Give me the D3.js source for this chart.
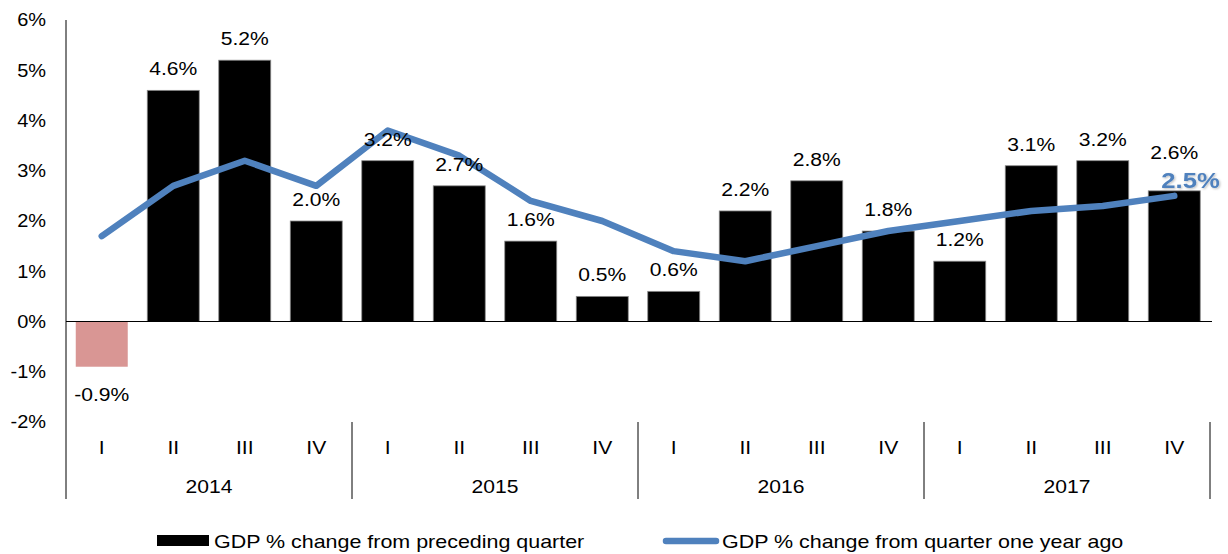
<!DOCTYPE html>
<html><head><meta charset="utf-8">
<script src="https://cdn.jsdelivr.net/npm/d3@7"></script>
<style>
html,body{margin:0;padding:0;background:#fff;}
svg{display:block;font-family:"Liberation Sans",Arial,sans-serif;}
</style></head>
<body><svg id="chart" width="1228" height="554"></svg>
<script>
const quarters = ["I","II","III","IV","I","II","III","IV","I","II","III","IV","I","II","III","IV"];
const years = ["2014","2015","2016","2017"];
const qoq = [-0.9,4.6,5.2,2.0,3.2,2.7,1.6,0.5,0.6,2.2,2.8,1.8,1.2,3.1,3.2,2.6];
const yoy = [1.7,2.7,3.2,2.7,3.8,3.3,2.4,2.0,1.4,1.2,1.5,1.8,2.0,2.2,2.3,2.5];
const yTicks = [-2,-1,0,1,2,3,4,5,6];
const seriesNames = ["GDP % change from preceding quarter","GDP % change from quarter one year ago"];

(function(){
const svg = d3.select("#chart");
const pL = 66, pR = 1210, pT = 20, pB = 422;
const SX = 1.14, FS = 18.5;
const idx = d3.range(qoq.length);
const x = d3.scaleBand().domain(idx).range([pL, pR]).paddingInner(0.273).paddingOuter(0.1365);
const y = d3.scaleLinear().domain([-2, 6]).range([pB, pT]);
const blue = "#4F81BD";
const tr = (px, py, s) => `translate(${px},${py}) scale(${s || SX},1)`;

// y axis
const yAxis = d3.axisLeft(y).tickValues(yTicks).tickSize(0).tickPadding(20).tickFormat(d => d + "%");
const ya = svg.append("g").attr("transform", `translate(${pL},0)`).call(yAxis);
ya.select(".domain").remove();
ya.selectAll("text").attr("font-size", FS).attr("fill", "#000")
  .attr("font-family", "Liberation Sans, Arial, sans-serif")
  .attr("x", -20 / 1.08).attr("transform", `scale(1.08,1)`);
svg.append("line").attr("x1", pL).attr("x2", pL).attr("y1", pT).attr("y2", 499).attr("stroke", "#000").attr("stroke-width", 1);

// bars
svg.append("g").selectAll("rect").data(qoq).join("rect")
  .attr("x", (d, i) => x(i))
  .attr("width", x.bandwidth())
  .attr("y", d => y(Math.max(0, d)))
  .attr("height", d => Math.abs(y(d) - y(0)))
  .attr("fill", d => d < 0 ? "#D99694" : "#000")
  .attr("stroke", d => d < 0 ? "none" : "#8a8a8a")
  .attr("stroke-width", 0.8);

// zero line
svg.append("line").attr("x1", pL).attr("x2", pR + 2).attr("y1", y(0)).attr("y2", y(0)).attr("stroke", "#000").attr("stroke-width", 1);

// line series
const line = d3.line().x((d, i) => x(i) + x.bandwidth() / 2).y(d => y(d));
svg.append("path").datum(yoy).attr("d", line).attr("fill", "none").attr("stroke", blue)
  .attr("stroke-width", 6.5).attr("stroke-linejoin", "round").attr("stroke-linecap", "round");

// bar labels
svg.append("g").selectAll("text").data(qoq).join("text")
  .attr("transform", (d, i) => tr(x(i) + x.bandwidth() / 2,
      d < 0 ? y(d) + 34 : y(d) - (i === qoq.length - 1 ? 32 : 15)))
  .attr("text-anchor", "middle").attr("font-size", FS).attr("fill", "#000")
  .text(d => d.toFixed(1) + "%");

// last line label
const defs = svg.append("defs");
const f = defs.append("filter").attr("id", "sh").attr("x", "-20%").attr("y", "-20%").attr("width", "140%").attr("height", "140%");
f.append("feDropShadow").attr("dx", 1).attr("dy", 1).attr("stdDeviation", 1).attr("flood-color", "#000").attr("flood-opacity", 0.25);
const li = yoy.length - 1;
svg.append("text").attr("transform", tr(x(li) + x.bandwidth() / 2 - 13, y(yoy[li]) - 8))
  .attr("font-size", 22.5).attr("font-weight", "bold").attr("fill", blue).attr("filter", "url(#sh)")
  .text(yoy[li].toFixed(1) + "%");

// category axis
const cat = svg.append("g");
cat.selectAll("text.q").data(quarters).join("text").attr("class", "q")
  .attr("transform", (d, i) => tr(x(i) + x.bandwidth() / 2, 454))
  .attr("text-anchor", "middle").attr("font-size", FS).text(d => d);
const step = x.step();
cat.selectAll("text.yr").data(years).join("text").attr("class", "yr")
  .attr("transform", (d, i) => tr(pL + step * (i * 4 + 2), 493))
  .attr("text-anchor", "middle").attr("font-size", FS).text(d => d);
cat.selectAll("line").data(d3.range(1, years.length + 1)).join("line")
  .attr("x1", i => pL + step * i * 4).attr("x2", i => pL + step * i * 4)
  .attr("y1", pB).attr("y2", 499).attr("stroke", "#000").attr("stroke-width", 1);

// legend
const lg = svg.append("g");
lg.append("rect").attr("x", 157).attr("y", 535).attr("width", 52).attr("height", 11).attr("fill", "#000");
lg.append("text").attr("transform", tr(214, 548, 1.16)).attr("font-size", FS).text(seriesNames[0]);
lg.append("line").attr("x1", 666).attr("x2", 716).attr("y1", 541).attr("y2", 541)
  .attr("stroke", blue).attr("stroke-width", 6.5).attr("stroke-linecap", "round");
lg.append("text").attr("transform", tr(722, 548, 1.16)).attr("font-size", FS).text(seriesNames[1]);
})();
</script></body></html>
